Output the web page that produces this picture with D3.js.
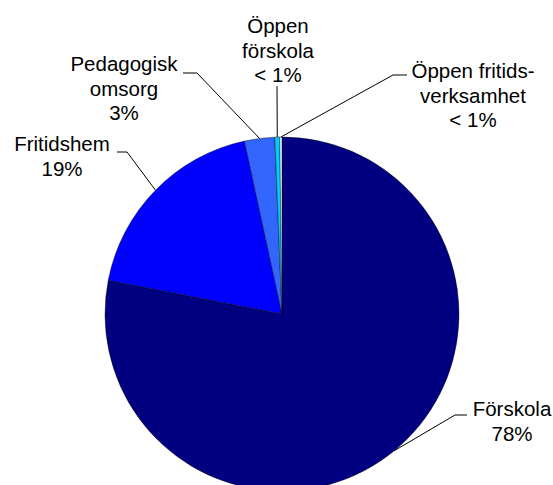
<!DOCTYPE html>
<html>
<head>
<meta charset="utf-8">
<script src="https://cdn.jsdelivr.net/npm/d3@7"></script>
<style>
  body { margin: 0; background: #fff; }
  text { font-family: "Liberation Sans", Arial, sans-serif; font-size: 20.5px; fill: #000; }
</style>
</head>
<body>
<svg id="chart" width="553" height="485"></svg>
<script>
// verksamhetsformer, share of children (percent)
var categories = ["Förskola", "Fritidshem", "Pedagogisk omsorg", "Öppen förskola", "Öppen fritidsverksamhet"];
var values = [78.05, 18.55, 2.75, 0.45, 0.2];
var colors = ["#000080", "#0000FF", "#3366FF", "#00CCFF", "#E8FFFF"];
var labelLines = [["Förskola"], ["Fritidshem"], ["Pedagogisk", "omsorg"], ["Öppen", "förskola"], ["Öppen fritids-", "verksamhet"]];

// label layout: text centre x, first baseline y, elbow of leader line, end of horizontal piece
var labelPos = [
  { x: 512, y: 416, elbow: [455, 415], end: [467, 415] },
  { x: 62, y: 151, elbow: [127, 152], end: [117, 152] },
  { x: 124, y: 71, elbow: [197, 73], end: [183, 73] },
  { x: 278, y: 33, elbow: [277, 86], end: null },
  { x: 473, y: 78, elbow: [393, 75], end: [407, 75] }
];

var cx = 282, cy = 314, radius = 177, lineH = 24.5;

var svg = d3.select("#chart");
var g = svg.append("g").attr("transform", "translate(" + cx + "," + cy + ")");

var data = categories.map(function(c, i) { return { key: c, value: values[i], idx: i }; });

var pie = d3.pie()
  .sort(null)
  .value(function(d) { return d.value; });

var arc = d3.arc()
  .innerRadius(0)
  .outerRadius(radius);

var arcs = pie(data);

g.selectAll(".slice")
  .data(arcs)
  .enter().append("path")
    .attr("class", "slice")
    .attr("d", arc)
    .attr("fill", function(d) { return colors[d.data.idx]; })
    .attr("stroke", "#000")
    .attr("stroke-width", 0.4);

function pctLabel(v) {
  var total = d3.sum(values);
  var p = v / total * 100;
  if (p < 1) return "< 1%";
  return Math.round(p) + "%";
}

// leader lines
arcs.forEach(function(d) {
  var pos = labelPos[d.data.idx];
  var mid = (d.startAngle + d.endAngle) / 2;
  var px = cx + radius * Math.sin(mid);
  var py = cy - radius * Math.cos(mid);
  var pts = [[px, py], pos.elbow];
  if (pos.end) pts.push(pos.end);
  svg.append("path")
    .attr("d", d3.line()(pts))
    .attr("fill", "none")
    .attr("stroke", "#000")
    .attr("stroke-width", 1);
});

// labels
arcs.forEach(function(d) {
  var pos = labelPos[d.data.idx];
  var lines = labelLines[d.data.idx].concat([pctLabel(d.data.value)]);
  var t = svg.append("text")
    .attr("text-anchor", "middle");
  lines.forEach(function(l, k) {
    t.append("tspan")
      .attr("x", pos.x)
      .attr("y", pos.y + k * lineH)
      .text(l);
  });
});
</script>
</body>
</html>
